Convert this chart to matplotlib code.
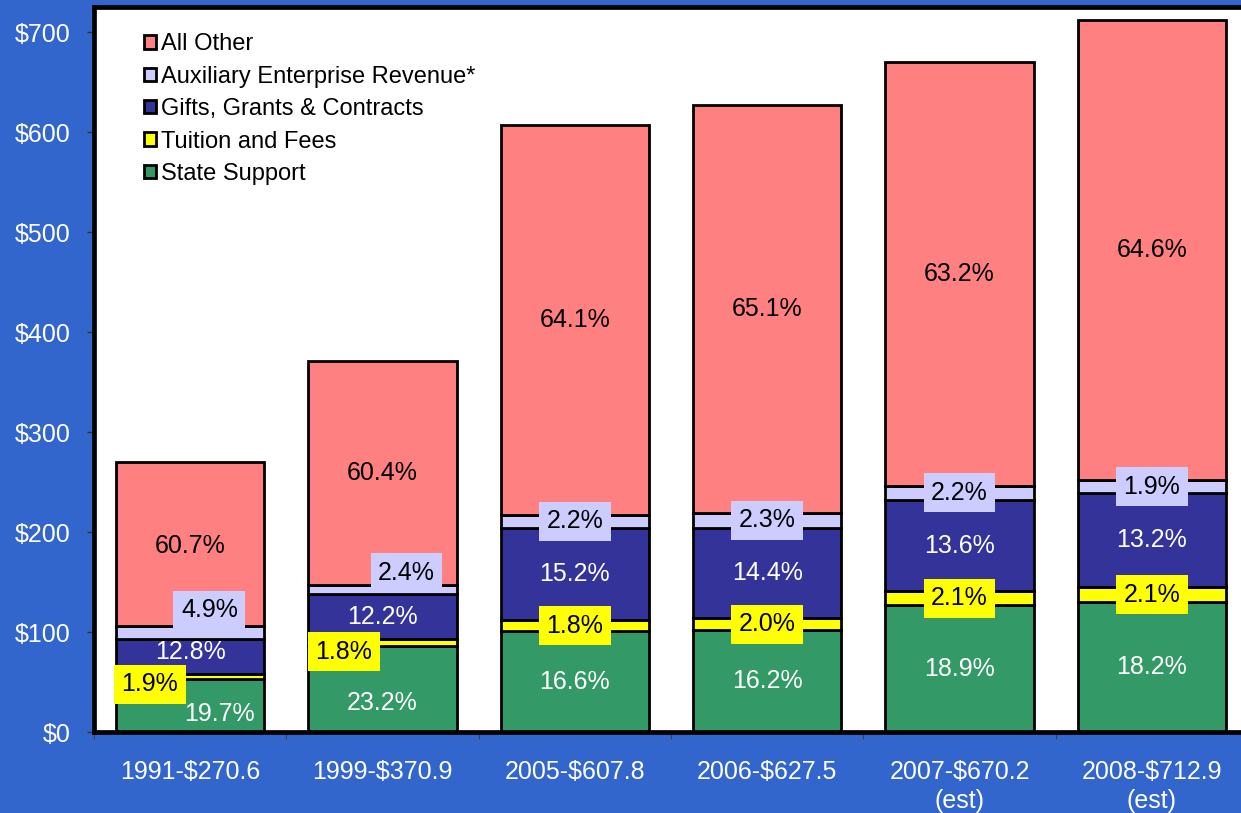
import matplotlib
matplotlib.use("Agg")
import matplotlib.pyplot as plt
import numpy as np

plt.rcParams['font.family'] = ['Liberation Sans', 'DejaVu Sans']

# ---------------------------
# Data
# ---------------------------
categories = ["1991-$270.6", "1999-$370.9", "2005-$607.8", "2006-$627.5",
              "2007-$670.2\n(est)", "2008-$712.9\n(est)"]
totals = [270.6, 370.9, 607.8, 627.5, 670.2, 712.9]

state_pct = [19.7, 23.2, 16.6, 16.2, 18.9, 18.2]
tuition_pct = [1.9, 1.8, 1.8, 2.0, 2.1, 2.1]
gifts_pct = [12.8, 12.2, 15.2, 14.4, 13.6, 13.2]
aux_pct = [4.9, 2.4, 2.2, 2.3, 2.2, 1.9]
other_pct = [60.7, 60.4, 64.1, 65.1, 63.2, 64.6]

series_names = ["State Support", "Tuition and Fees", "Gifts, Grants & Contracts",
                "Auxiliary Enterprise Revenue*", "All Other"]

# ---------------------------
# Style
# ---------------------------
bg = "#3366CC"
colors = ["#339966", "#FFFF00", "#333399", "#CCCCFF", "#FF8080"]
text_colors = ["white", "black", "white", "black", "black"]
box_colors = [None, "#FFFF00", None, "#CCCCFF", None]

# label nudges (x in category units, y in $), only the first two bars are moved
nudge_x = [[0.155, 0.0, 0, 0, 0, 0],
           [-0.21, -0.2, 0, 0, 0, 0],
           [0.0, 0.0, 0, 0, 0, 0],
           [0.1, 0.125, 0, 0, 0, 0],
           [0.0, 0.0, 0, 0, 0, 0]]
nudge_y = [[-8.5, -14.0, 0, 0, 0, 0],
           [-8.0, -9.0, 0, 0, 0, 0],
           [4.0, 0.0, 0, 0, 0, 0],
           [22.0, 17.0, 0, 0, 0, 0],
           [-2.0, 0.0, 0, 0, 0, 0]]

fs = 18

# ---------------------------
# Plot
# ---------------------------
fig = plt.figure(figsize=(12.41, 8.13), dpi=100, facecolor=bg)
ax = fig.add_axes([0.0757, 0.0996, 0.93, 0.8924])
ax.set_facecolor("white")

x = np.arange(len(categories))
pcts = [state_pct, tuition_pct, gifts_pct, aux_pct, other_pct]
bottom = np.zeros(len(categories))
for i, p in enumerate(pcts):
    vals = np.array(p) / 100.0 * np.array(totals)
    ax.bar(x, vals, 0.77, bottom=bottom, color=colors[i],
           edgecolor="black", linewidth=2.0, label=series_names[i], zorder=2)
    for j in range(len(categories)):
        cx = x[j] + nudge_x[i][j]
        cy = bottom[j] + vals[j] / 2 + nudge_y[i][j]
        kw = {}
        if box_colors[i] is not None:
            kw["bbox"] = dict(boxstyle="square,pad=0.3", fc=box_colors[i], ec="none")
        ax.text(cx, cy, f"{p[j]:.1f}%", ha="center", va="center",
                color=text_colors[i], fontsize=fs, zorder=5, **kw)
    bottom += vals

ax.set_xlim(-0.5, 5.5)
ax.set_ylim(0, 726)
ax.set_yticks(np.arange(0, 701, 100))
ax.set_yticklabels([f"${v}" for v in range(0, 701, 100)])
ax.tick_params(axis="y", colors="#333333", labelcolor="white", labelsize=fs,
               length=5, width=1, pad=12)

ax.set_xticks(x)
ax.set_xticklabels(categories, linespacing=1.25)
ax.tick_params(axis="x", which="major", length=0, labelcolor="white",
               labelsize=fs, pad=20)
ax.set_xticks(np.arange(-0.5, 6, 1), minor=True)
ax.tick_params(axis="x", which="minor", length=5, colors="#333333")

for s in ["left", "top", "bottom"]:
    ax.spines[s].set_linewidth(3.4)
    ax.spines[s].set_color("black")
ax.spines["right"].set_visible(False)

handles, labels = ax.get_legend_handles_labels()
ax.legend(handles[::-1], labels[::-1], loc="upper left",
          bbox_to_anchor=(0.035, 0.976), frameon=False, fontsize=17,
          handlelength=0.5, handleheight=0.5, handletextpad=0.25,
          labelspacing=0.44, borderaxespad=0)

fig.savefig("out.png", dpi=100, facecolor=bg)
